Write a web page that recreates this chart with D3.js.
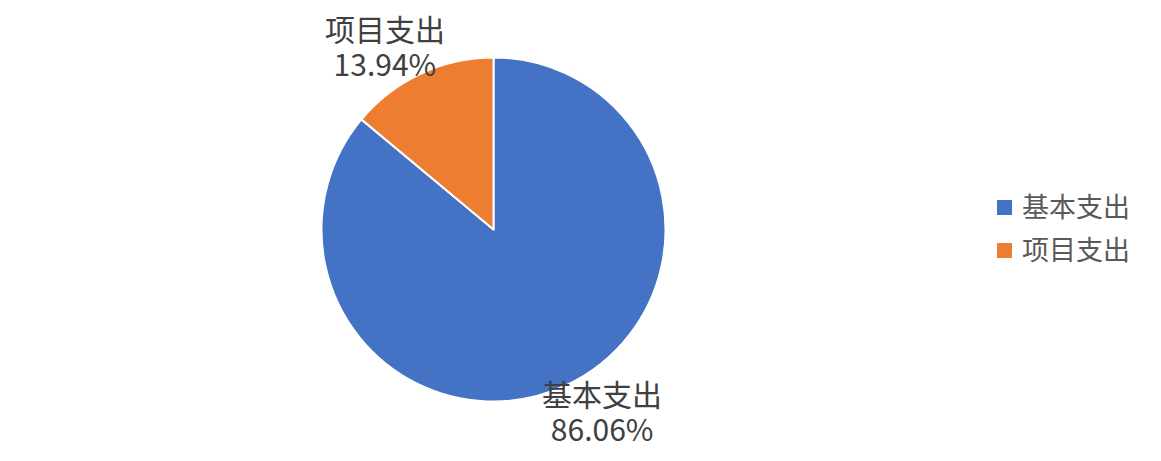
<!DOCTYPE html>
<html>
<head>
<meta charset="utf-8">
<script src="https://cdn.jsdelivr.net/npm/d3@7"></script>
<style>
  body { margin: 0; background: #fff; }
  svg { display: block; font-family: "Noto Sans CJK SC", "Microsoft YaHei", sans-serif; }
</style>
</head>
<body>
<svg id="chart" width="1161" height="461"></svg>
<script>
// data
var categories = ['基本支出', '项目支出'];
var values = [86.06, 13.94];
var colors = ['#4472C4', '#ED7D31'];

var svg = d3.select("#chart"),
    cx = 493.5, cy = 229.5, radius = 172;

var data = categories.map(function(c, i) { return {name: c, value: values[i]}; });

var pie = d3.pie()
    .sort(null)
    .value(d => d.value);

var arc = d3.arc()
    .innerRadius(0)
    .outerRadius(radius);

var g = svg.append("g")
    .attr("transform", `translate(${cx},${cy})`);

g.selectAll("path.slice")
    .data(pie(data))
    .enter().append("path")
    .attr("class", "slice")
    .attr("d", arc)
    .attr("fill", (d, i) => colors[i])
    .attr("stroke", "#fff")
    .attr("stroke-width", 2)
    .attr("stroke-linejoin", "round");

// labels sit outside the pie, rotated a little against the slice middle
var labelR = 212;
var labels = g.selectAll("text.lbl")
    .data(pie(data))
    .enter().append("text")
    .attr("class", "lbl")
    .attr("text-anchor", "middle")
    .attr("fill", "#404040")
    .attr("font-size", "30px")
    .attr("transform", function(d) {
        var a = (d.startAngle + d.endAngle) / 2 - 0.1;
        return `translate(${labelR * Math.sin(a)},${-labelR * Math.cos(a)})`;
    });

labels.append("tspan")
    .attr("x", 0).attr("y", -6)
    .text(d => d.data.name);

labels.append("tspan")
    .attr("x", 0).attr("y", 29)
    .text(d => d.data.value.toFixed(2) + "%");

// legend
var legend = svg.append("g")
    .attr("transform", "translate(997,200)");

var item = legend.selectAll("g.item")
    .data(categories)
    .enter().append("g")
    .attr("class", "item")
    .attr("transform", (d, i) => `translate(0,${i * 43})`);

item.append("rect")
    .attr("width", 15)
    .attr("height", 15)
    .attr("fill", (d, i) => colors[i]);

item.append("text")
    .attr("x", 25)
    .attr("y", 17)
    .attr("fill", "#595959")
    .attr("font-size", "27px")
    .text(d => d);
</script>
</body>
</html>
